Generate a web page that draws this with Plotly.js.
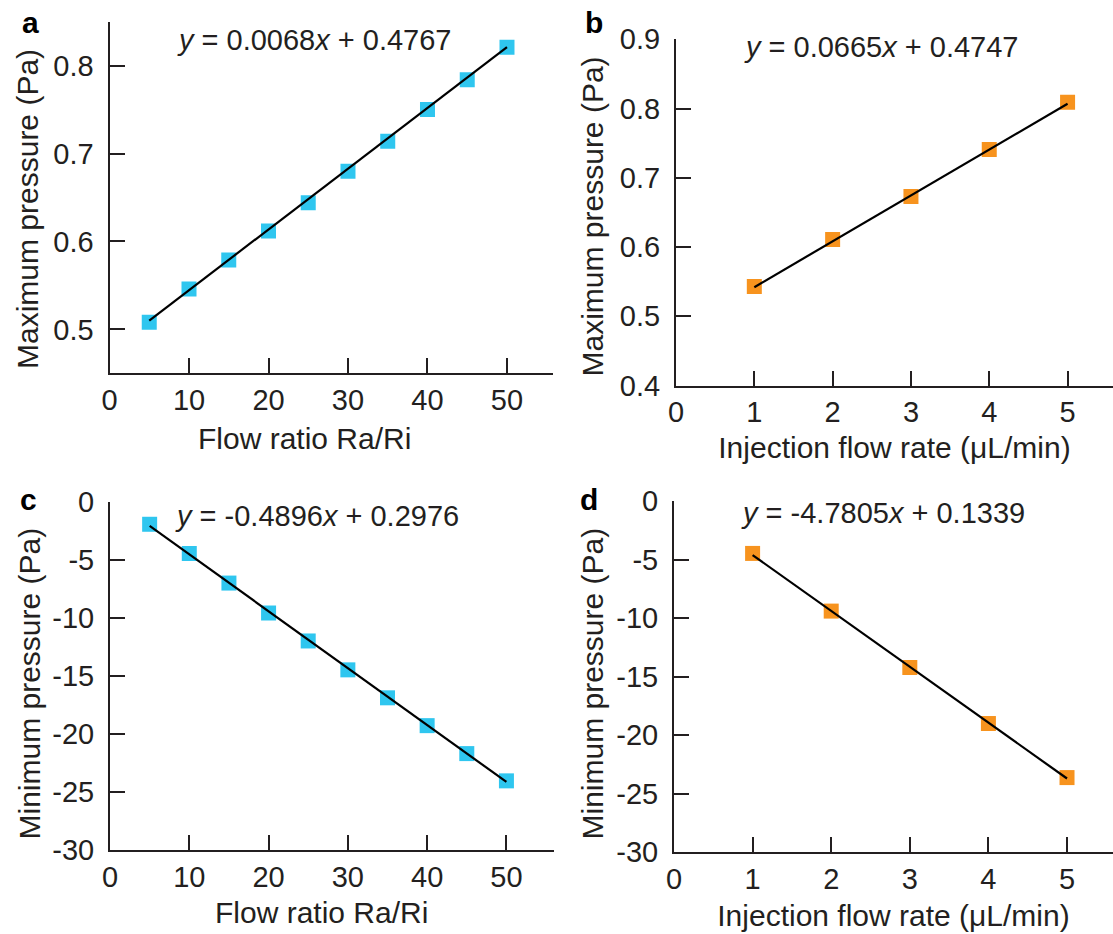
<!DOCTYPE html>
<html>
<head>
<meta charset="utf-8">
<script src="https://cdn.plot.ly/plotly-3.0.1.min.js"></script>
<style>html,body{margin:0;padding:0;background:#fff;}#chart{width:1113px;height:934px;}</style>
</head>
<body>
<div id="chart"></div>
<script>
// ---- data ----
const ratioX = [5, 10, 15, 20, 25, 30, 35, 40, 45, 50];
const maxPressureRatio = [0.508, 0.546, 0.579, 0.612, 0.644, 0.680, 0.714, 0.750, 0.784, 0.821];
const minPressureRatio = [-1.92, -4.44, -6.99, -9.57, -11.98, -14.47, -16.88, -19.28, -21.69, -24.04];

const rateX = [1, 2, 3, 4, 5];
const maxPressureRate = [0.543, 0.611, 0.673, 0.741, 0.809];
const minPressureRate = [-4.48, -9.41, -14.23, -19.02, -23.64];

const fitRatioX = [5, 50];
const fitMaxRatioY = [0.510, 0.821];
const fitMinRatioY = [-2.06, -24.13];
const fitRateX = [1, 5];
const fitMaxRateY = [0.542, 0.807];
const fitMinRateY = [-4.62, -23.72];

const eqA = '<i>y</i> = 0.0068<i>x</i> + 0.4767';
const eqB = '<i>y</i> = 0.0665<i>x</i> + 0.4747';
const eqC = '<i>y</i> = -0.4896<i>x</i> + 0.2976';
const eqD = '<i>y</i> = -4.7805<i>x</i> + 0.1339';
const panelLabels = ['a', 'b', 'c', 'd'];

const ratioTicks = [0, 10, 20, 30, 40, 50];
const rateTicks = [0, 1, 2, 3, 4, 5];
const maxTicksA = [0.5, 0.6, 0.7, 0.8];
const maxTicksB = [0.4, 0.5, 0.6, 0.7, 0.8, 0.9];
const minTicks = [0, -5, -10, -15, -20, -25, -30];
const minTickText = ['0', '-5', '-10', '-15', '-20', '-25', '-30'];

const xTitleRatio = 'Flow ratio Ra/Ri';
const xTitleRate = 'Injection flow rate (μL/min)';
const yTitleMax = 'Maximum pressure (Pa)';
const yTitleMin = 'Minimum pressure (Pa)';

// ---- styling ----
const INK = '#231f20';
const CYAN = '#2fc6ef';
const ORANGE = '#f7931e';
const FONT = 'Liberation Sans, Arial, Helvetica, sans-serif';
const TICK_SIZE = 29, TITLE_SIZE = 30;
const W = 1113, H = 934;
const px = v => v / W;
const py = v => 1 - v / H;

function markerTrace(x, y, color, xa, ya) {
  return {x: x, y: y, xaxis: xa, yaxis: ya, type: 'scatter', mode: 'markers',
    marker: {symbol: 'square', size: 15, color: color, line: {width: 0}}, hoverinfo: 'x+y'};
}
function lineTrace(x, y, xa, ya) {
  return {x: x, y: y, xaxis: xa, yaxis: ya, type: 'scatter', mode: 'lines',
    line: {color: '#000', width: 2.2}, hoverinfo: 'skip'};
}

const traces = [
  markerTrace(ratioX, maxPressureRatio, CYAN, 'x', 'y'),
  lineTrace(fitRatioX, fitMaxRatioY, 'x', 'y'),
  markerTrace(rateX, maxPressureRate, ORANGE, 'x2', 'y2'),
  lineTrace(fitRateX, fitMaxRateY, 'x2', 'y2'),
  markerTrace(ratioX, minPressureRatio, CYAN, 'x3', 'y3'),
  lineTrace(fitRatioX, fitMinRatioY, 'x3', 'y3'),
  markerTrace(rateX, minPressureRate, ORANGE, 'x4', 'y4'),
  lineTrace(fitRateX, fitMinRateY, 'x4', 'y4')
];

function xAxis(domain, range, ticks, title, anchor, standoff) {
  const ax = {domain: domain, range: range, anchor: anchor, tickvals: ticks,
    ticktext: ticks.map(String), ticks: 'inside', ticklen: 15, tickwidth: 2, tickcolor: INK,
    showline: true, linecolor: INK, linewidth: 2, showgrid: false, zeroline: false,
    tickfont: {family: FONT, size: TICK_SIZE, color: INK}, ticklabelstandoff: 0,
    fixedrange: true, automargin: false};
  if (title) ax.title = {text: title, font: {family: FONT, size: TITLE_SIZE, color: INK}, standoff: standoff};
  return ax;
}
function yAxis(domain, range, ticks, text, anchor) {
  return {domain: domain, range: range, anchor: anchor, tickvals: ticks,
    ticktext: text, ticks: 'inside', ticklen: 15, tickwidth: 2, tickcolor: INK,
    showline: true, linecolor: INK, linewidth: 2, showgrid: false, zeroline: false,
    tickfont: {family: FONT, size: TICK_SIZE, color: INK}, ticklabelstandoff: 8,
    fixedrange: true, automargin: false};
}

function ann(text, x, y, anchor, size, bold, angle) {
  return {xref: 'paper', yref: 'paper', x: x, y: y, xanchor: anchor, yanchor: 'middle',
    text: bold ? '<b>' + text + '</b>' : text, showarrow: false, textangle: angle || 0,
    font: {family: FONT, size: size, color: bold ? '#000' : INK}};
}

const layout = {
  width: W, height: H,
  margin: {l: 0, r: 0, t: 0, b: 0},
  paper_bgcolor: '#fff', plot_bgcolor: '#fff',
  showlegend: false,
  font: {family: FONT, color: INK},
  xaxis: xAxis([px(109.5), px(552.7)], [0, 55.75], ratioTicks, null, 'y'),
  yaxis: yAxis([py(373.3), py(21.7)], [0.45, 0.85], maxTicksA, maxTicksA.map(v => v.toFixed(1)), 'x'),
  xaxis2: xAxis([px(676), px(1113)], [0, 5.58], rateTicks, xTitleRate, 'y2', 10),
  yaxis2: yAxis([py(385.5), py(39.3)], [0.4, 0.9], maxTicksB, maxTicksB.map(v => v.toFixed(1)), 'x2'),
  xaxis3: xAxis([px(110), px(554)], [0, 56], ratioTicks, null, 'y3'),
  yaxis3: yAxis([py(850), py(502)], [-30, 0], minTicks, minTickText, 'x3'),
  xaxis4: xAxis([px(674), px(1113)], [0, 5.585], rateTicks, xTitleRate, 'y4', 11),
  yaxis4: yAxis([py(852), py(501)], [-30, 0], minTicks, minTickText, 'x4'),
  annotations: [
    ann(panelLabels[0], px(30.5), py(22.5), 'center', 30, true),
    ann(panelLabels[1], px(593.5), py(22.5), 'center', 30, true),
    ann(panelLabels[2], px(28), py(499.5), 'center', 30, true),
    ann(panelLabels[3], px(589), py(499.5), 'center', 30, true),
    ann(eqA, px(175), py(40), 'left', 29, false),
    ann(eqB, px(742), py(47), 'left', 29, false),
    ann(eqC, px(173), py(516), 'left', 29, false),
    ann(eqD, px(739), py(513), 'left', 29, false),
    ann(xTitleRatio, px(304), py(438), 'center', TITLE_SIZE, false),
    ann(xTitleRatio, px(321), py(912), 'center', TITLE_SIZE, false),
    ann(yTitleMax, px(27), py(209), 'center', TITLE_SIZE, false, -90),
    ann(yTitleMax, px(592), py(216.5), 'center', TITLE_SIZE, false, -90),
    ann(yTitleMin, px(29), py(683.5), 'center', TITLE_SIZE, false, -90),
    ann(yTitleMin, px(592), py(683.5), 'center', TITLE_SIZE, false, -90)
  ]
};

Plotly.newPlot('chart', traces, layout, {staticPlot: true, displayModeBar: false});
</script>
</body>
</html>
